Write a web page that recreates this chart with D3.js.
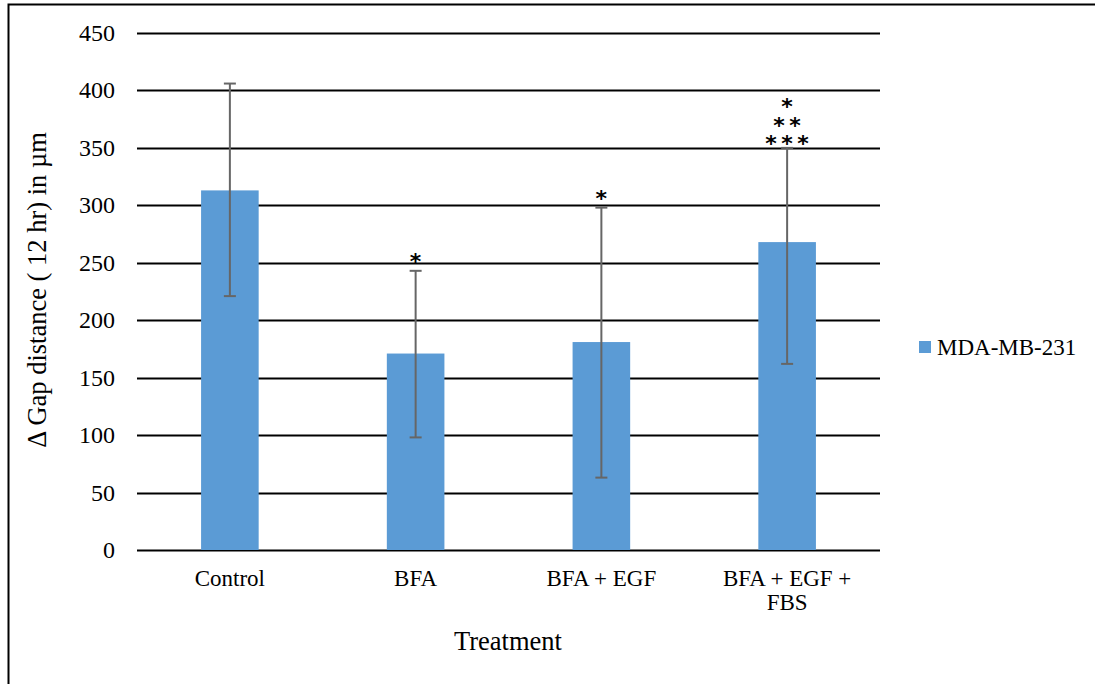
<!DOCTYPE html>
<html>
<head>
<meta charset="utf-8">
<script src="https://cdn.jsdelivr.net/npm/d3@7"></script>
<style>
  body { margin: 0; background: #fff; }
</style>
</head>
<body>
<div id="chart"></div>
<script>
// values
var categories = ["Control", "BFA", "BFA + EGF", "BFA + EGF + FBS"];
var means = [313, 171, 181, 268];
var errUpper = [406, 243, 298, 350];
var errLower = [221, 98, 63, 162];
var stars = [0, 1, 1, 3]; // rows of asterisks above each bar
var yTicks = [0, 50, 100, 150, 200, 250, 300, 350, 400, 450];
var seriesName = "MDA-MB-231";

var width = 1095, height = 684;
var margin = {top: 33, left: 137, right: 215, bottom: 134};
var serif = "'Liberation Serif', 'Times New Roman', 'DejaVu Serif', serif";

var svg = d3.select("#chart")
  .append("svg")
  .attr("width", width)
  .attr("height", height)
  .attr("font-family", serif)
  .style("font-family", serif);

// outer frame (left + top only)
svg.append("path")
  .attr("d", "M8.5," + height + "V4.5H" + width)
  .attr("fill", "none")
  .attr("stroke", "#000")
  .attr("stroke-width", 2);

var x = d3.scaleBand()
  .domain(categories)
  .range([margin.left, width - margin.right])
  .paddingInner(0.69)
  .paddingOuter(0.345);

var y = d3.scaleLinear()
  .domain([0, 450])
  .range([height - margin.bottom, margin.top]);

// gridlines
svg.append("g")
  .selectAll("line")
  .data(yTicks)
  .enter().append("line")
  .attr("x1", margin.left)
  .attr("x2", width - margin.right)
  .attr("y1", function (d) { return Math.round(y(d)) + 0.5 })
  .attr("y2", function (d) { return Math.round(y(d)) + 0.5 })
  .attr("stroke", "#000")
  .attr("stroke-width", 2);

// y labels
svg.append("g")
  .selectAll("text")
  .data(yTicks)
  .enter().append("text")
  .attr("x", 115)
  .attr("y", function (d) { return y(d) + 8 })
  .attr("text-anchor", "end")
  .style("font-size", "24px")
  .text(function (d) { return d });

var data = categories.map(function (c, i) {
  return {cat: c, v: means[i], hi: errUpper[i], lo: errLower[i], s: stars[i]};
});

// bars
svg.append("g")
  .selectAll("rect")
  .data(data)
  .enter().append("rect")
  .attr("x", function (d) { return x(d.cat) })
  .attr("width", x.bandwidth())
  .attr("y", function (d) { return y(d.v) })
  .attr("height", function (d) { return y(0) - y(d.v) })
  .attr("fill", "#5B9BD5");

// error bars
var eb = svg.append("g")
  .attr("stroke", "#666")
  .attr("stroke-width", 2);

data.forEach(function (d) {
  var cx = x(d.cat) + x.bandwidth() / 2;
  eb.append("line").attr("x1", cx).attr("x2", cx).attr("y1", y(d.hi)).attr("y2", y(d.lo));
  eb.append("line").attr("x1", cx - 6).attr("x2", cx + 6).attr("y1", y(d.hi)).attr("y2", y(d.hi));
  eb.append("line").attr("x1", cx - 6).attr("x2", cx + 6).attr("y1", y(d.lo)).attr("y2", y(d.lo));
});

// significance stars (pyramid: 1, 2, 3 from top)
data.forEach(function (d) {
  var cx = x(d.cat) + x.bandwidth() / 2;
  var gap = d.s > 1 ? 9 : 14;
  for (var r = 0; r < d.s; r++) {
    var n = d.s - r; // bottom row has most stars
    var centerY = y(d.hi) - gap - r * 18.5;
    for (var k = 0; k < n; k++) {
      svg.append("text")
        .attr("x", cx + (k - (n - 1) / 2) * 16)
        .attr("y", centerY + 12.5)
        .attr("text-anchor", "middle")
        .style("font-family", "'DejaVu Sans', sans-serif")
        .style("font-weight", "bold")
        .style("font-size", "22px")
        .text("*");
    }
  }
});

// x labels
var xl = svg.append("g")
  .selectAll("text")
  .data(categories)
  .enter().append("text")
  .attr("text-anchor", "middle")
  .attr("y", 586)
  .style("font-size", "23px");

xl.each(function (c) {
  var t = d3.select(this);
  var lines = c === "BFA + EGF + FBS" ? ["BFA + EGF +", "FBS"] : [c];
  lines.forEach(function (l, i) {
    t.append("tspan")
      .attr("x", x(c) + x.bandwidth() / 2)
      .attr("dy", i === 0 ? 0 : 24)
      .text(l);
  });
});

// axis titles
svg.append("text")
  .attr("x", 508)
  .attr("y", 650)
  .attr("text-anchor", "middle")
  .style("font-size", "26.5px")
  .text("Treatment");

svg.append("text")
  .attr("transform", "translate(46," + 290 + ") rotate(-90)")
  .attr("text-anchor", "middle")
  .style("font-size", "26.5px")
  .text("\u0394 Gap distance ( 12 hr) in \u00b5m");

// legend
svg.append("rect")
  .attr("x", 919)
  .attr("y", 341)
  .attr("width", 12)
  .attr("height", 12)
  .attr("fill", "#5B9BD5");

svg.append("text")
  .attr("x", 937)
  .attr("y", 355)
  .style("font-size", "23px")
  .text(seriesName);
</script>
</body>
</html>
